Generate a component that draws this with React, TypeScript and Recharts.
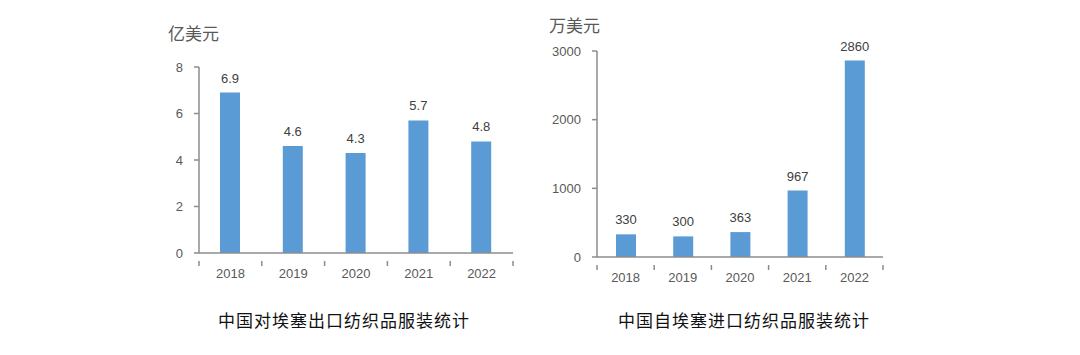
import React from 'react';
import { BarChart, Bar, XAxis, YAxis, LabelList } from 'recharts';

const years = ['2018', '2019', '2020', '2021', '2022'];
const exportValues = [6.9, 4.6, 4.3, 5.7, 4.8];
const importValues = [330, 300, 363, 967, 2860];
const exportTicks = [0, 2, 4, 6, 8];
const importTicks = [0, 1000, 2000, 3000];

const exportData = years.map((year, i) => ({ year, value: exportValues[i] }));
const importData = years.map((year, i) => ({ year, value: importValues[i] }));

const AXIS = '#8c8c8c';
const TEXT = '#595959';
const BAR = '#5b9bd5';
const FONT = '"Liberation Sans", Arial, sans-serif';
const CJK = '"Noto Sans CJK SC", sans-serif';

// x tick: label in the middle of the band, tick mark on the band edge
const makeTick = (band: number, count: number) => (props: any) => {
  const { x, y, payload, index } = props;
  return (
    <g>
      <line x1={x - band / 2} y1={y} x2={x - band / 2} y2={y + 5} stroke={AXIS} strokeWidth={1.5} />
      {index === count - 1 && (
        <line x1={x + band / 2} y1={y} x2={x + band / 2} y2={y + 5} stroke={AXIS} strokeWidth={1.5} />
      )}
      <text x={x} y={y + 14} textAnchor="middle" dominantBaseline="middle" fill={TEXT} fontSize={13} fontFamily={FONT}>
        {payload.value}
      </text>
    </g>
  );
};

interface PanelProps {
  data: { year: string; value: number }[];
  ticks: number[];
  left: number;
  width: number;
  yWidth: number;
  top: number;
  bottom: number;
  unit: string;
  unitX: number;
  unitY: number;
  title: string;
  titleX: number;
}

const Panel: React.FC<PanelProps> = (p) => {
  const height = 300;
  const right = 17;
  const plotWidth = p.width - p.yWidth - right;
  const band = plotWidth / p.data.length;
  return (
    <>
      <div style={{ position: 'absolute', left: p.left, top: 0 }}>
        <BarChart
          width={p.width}
          height={height}
          data={p.data}
          margin={{ top: p.top, right, bottom: p.bottom, left: 0 }}
          barSize={20}
        >
          <XAxis
            dataKey="year"
            height={30}
            stroke={AXIS}
            strokeWidth={1.5}
            tickLine={false}
            tick={makeTick(band, p.data.length)}
            interval={0}
          />
          <YAxis
            width={p.yWidth}
            domain={[p.ticks[0], p.ticks[p.ticks.length - 1]]}
            ticks={p.ticks}
            stroke={AXIS}
            strokeWidth={1.5}
            tickSize={5}
            tickMargin={11}
            tick={{ fill: TEXT, fontSize: 13, fontFamily: FONT }}
          />
          <Bar dataKey="value" fill={BAR} isAnimationActive={false}>
            <LabelList
              dataKey="value"
              position="top"
              offset={10}
              fill="#404040"
              fontSize={13}
              fontFamily={FONT}
            />
          </Bar>
        </BarChart>
      </div>
      <div
        style={{
          position: 'absolute',
          left: p.unitX,
          top: p.unitY,
          fontFamily: CJK,
          fontSize: 17,
          color: TEXT,
          lineHeight: '20px',
        }}
      >
        {p.unit}
      </div>
      <div
        style={{
          position: 'absolute',
          left: p.titleX,
          top: 309,
          fontFamily: CJK,
          fontSize: 17,
          letterSpacing: 1,
          color: '#111',
          lineHeight: '22px',
        }}
      >
        {p.title}
      </div>
    </>
  );
};

const App: React.FC = () => {
  return (
    <div style={{ position: 'relative', width: 1080, height: 355, margin: -8, background: '#fff', overflow: 'hidden' }}>
      <Panel
        data={exportData}
        ticks={exportTicks}
        left={150}
        width={380}
        yWidth={49}
        top={67}
        bottom={17}
        unit="亿美元"
        unitX={168}
        unitY={23}
        title="中国对埃塞出口纺织品服装统计"
        titleX={218}
      />
      <Panel
        data={importData}
        ticks={importTicks}
        left={540}
        width={360}
        yWidth={57}
        top={51}
        bottom={13}
        unit="万美元"
        unitX={549}
        unitY={15}
        title="中国自埃塞进口纺织品服装统计"
        titleX={618}
      />
    </div>
  );
};

export default App;
